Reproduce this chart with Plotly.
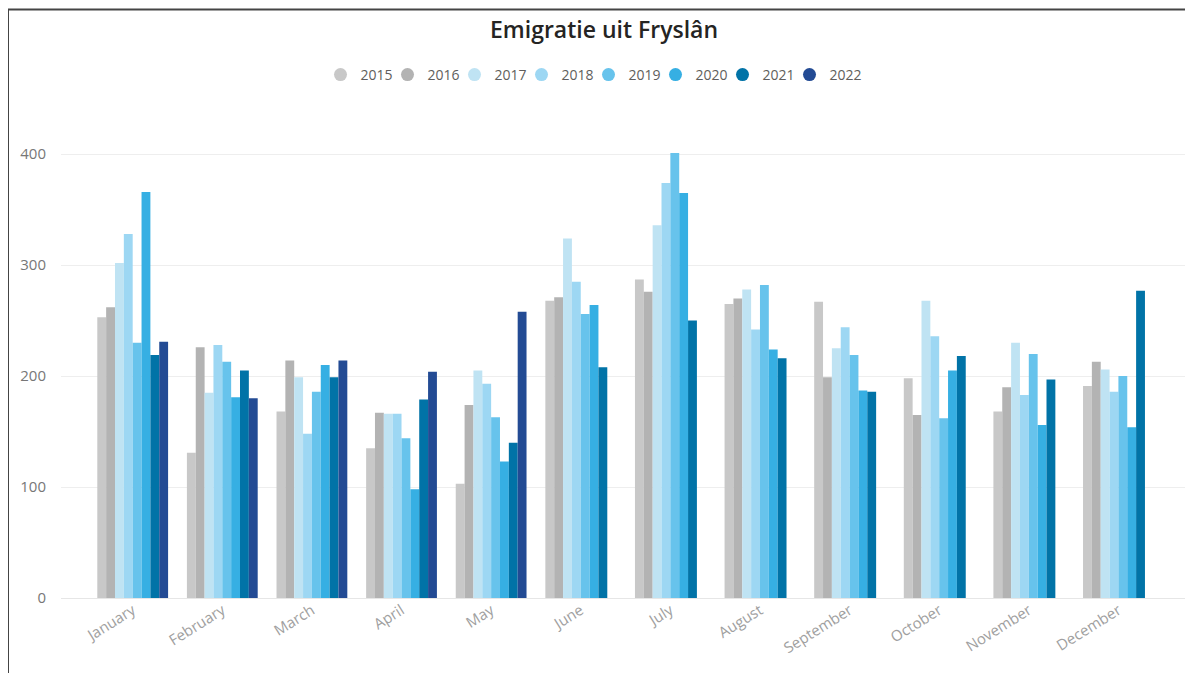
import plotly.graph_objects as go

months = ["January", "February", "March", "April", "May", "June", "July",
          "August", "September", "October", "November", "December"]
years = ["2015", "2016", "2017", "2018", "2019", "2020", "2021", "2022"]

v2015 = [253, 131, 168, 135, 103, 268, 287, 265, 267, 198, 168, 191]
v2016 = [262, 226, 214, 167, 174, 271, 276, 270, 199, 165, 190, 213]
v2017 = [302, 185, 199, 166, 205, 324, 336, 278, 225, 268, 230, 206]
v2018 = [328, 228, 148, 166, 193, 285, 374, 242, 244, 236, 183, 186]
v2019 = [230, 213, 186, 144, 163, 256, 401, 282, 219, 162, 220, 200]
v2020 = [366, 181, 210, 98, 123, 264, 365, 224, 187, 205, 156, 154]
v2021 = [219, 205, 199, 179, 140, 208, 250, 216, 186, 218, 197, 277]
v2022 = [231, 180, 214, 204, 258, None, None, None, None, None, None, None]

series = [v2015, v2016, v2017, v2018, v2019, v2020, v2021, v2022]
colors = ["#C8C8C8", "#B3B3B3", "#BFE3F3", "#9DD7F3", "#67C3EC", "#36AFE3",
          "#0173A7", "#234B94"]

FONT = "Segoe UI, Open Sans, sans-serif"

fig = go.Figure()
for yr, vals, col in zip(years, series, colors):
    fig.add_trace(go.Bar(x=months, y=vals, name=yr, marker_color=col,
                         marker_line_width=0, legendgroup=yr, showlegend=False))
for yr, col in zip(years, colors):
    fig.add_trace(go.Scatter(x=[None], y=[None], mode="markers", name=yr,
                             legendgroup=yr,
                             marker=dict(symbol="circle", size=13, color=col)))
# empty spacer entry so the last legend label is not clipped
fig.add_trace(go.Scatter(x=[None], y=[None], mode="markers", name=" ",
                         marker=dict(size=1, color="rgba(255,255,255,0)",
                                     line=dict(width=0)),
                         hoverinfo="skip"))

# page body has an 8px margin; figure coordinates = reference pixels - 8
OFF = 8
W, H = 1185, 665
L, R, T, B = 61 - OFF, 2, 132 - OFF, 75
pw, ph = W - L - R, H - T - B

def px(x):
    return (x - OFF - L) / pw

def py(y):
    return (H - B - (y - OFF)) / ph

fig.update_layout(
    width=W, height=H,
    margin=dict(l=L, r=R, t=T, b=B),
    paper_bgcolor="white", plot_bgcolor="white",
    barmode="group", bargap=0.21, bargroupgap=0,
    title=dict(text="Emigratie uit Fryslân", x=px(604), xref="paper",
               xanchor="center", y=1 - (30 - OFF) / H, yanchor="middle",
               font=dict(family=FONT, size=23, weight=600, color="#252423")),
    legend=dict(orientation="h", x=px(622), xanchor="center", y=py(75),
                yanchor="middle",
                font=dict(family=FONT, size=14, color="#605E5C"),
                itemwidth=30, tracegroupgap=0, entrywidth=22),
    xaxis=dict(type="category", range=[-0.80, 11.81], tickangle=-32,
               tickfont=dict(family=FONT, size=15, color="#A0A0A0"),
               showgrid=False, showline=False, ticks=""),
    yaxis=dict(range=[0, 420], dtick=100, showgrid=True, gridcolor="#EEEEEE",
               gridwidth=1, zeroline=True, zerolinecolor="#E6E6E6",
               zerolinewidth=1, ticklabelstandoff=14,
               tickfont=dict(family=FONT, size=15, color="#777777"),
               showline=False, ticks=""),
    shapes=[
        dict(type="line", xref="paper", yref="paper", x0=px(8), x1=px(8),
             y0=py(H + 20), y1=py(9.5), line=dict(color="#444444", width=2)),
        dict(type="line", xref="paper", yref="paper", x0=px(8), x1=px(W + 20),
             y0=py(9.5), y1=py(9.5), line=dict(color="#444444", width=2)),
    ],
)

fig.write_html("out.html")
